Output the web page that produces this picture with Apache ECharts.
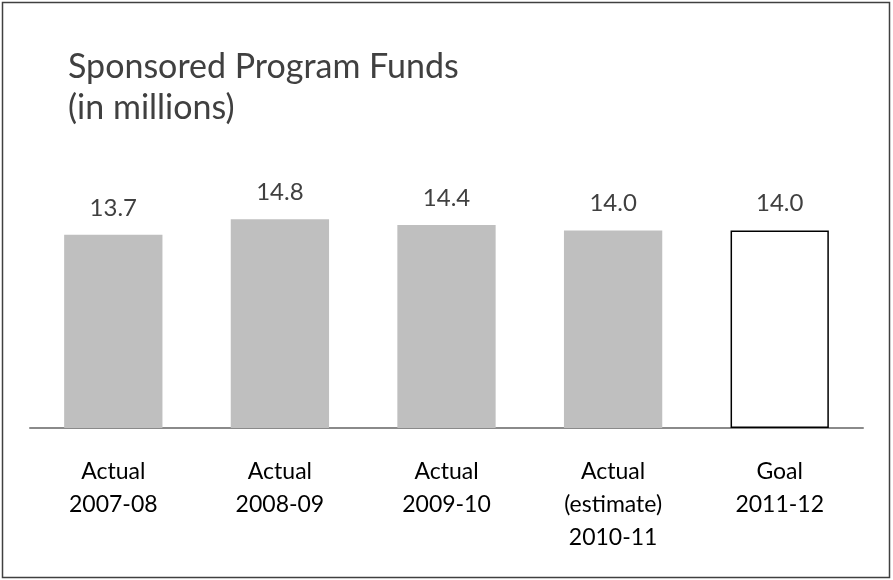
<!DOCTYPE html>
<html>
<head>
<meta charset="utf-8">
<script src="https://cdn.jsdelivr.net/npm/echarts@6/dist/echarts.min.js"></script>
<style>
  * { margin: 0; padding: 0; }
  html, body { width: 893px; height: 580px; background: #fff; overflow: hidden; }
  #chart { width: 893px; height: 580px; }
</style>
</head>
<body>
<div id="chart"></div>
<script>
// data
var categories = ['Actual\n2007-08', 'Actual\n2008-09', 'Actual\n2009-10', 'Actual\n(estimate)\n2010-11', 'Goal\n2011-12'];
var funds = [13.7, 14.8, 14.4, 14.0, 14.0];
var isGoal = [false, false, false, false, true];

var chart = echarts.init(document.getElementById('chart'));

var barData = funds.map(function (v, i) {
  if (isGoal[i]) {
    return { value: v, itemStyle: { color: '#ffffff', borderColor: '#000000', borderWidth: 1.5 } };
  }
  return { value: v };
});

var option = {
  animation: false,
  backgroundColor: '#ffffff',
  title: {
    text: 'Sponsored Program Funds\n(in millions)',
    left: 63,
    top: 42,
    textStyle: {
      fontFamily: 'Lato',
      fontWeight: 'normal',
      fontSize: 34,
      lineHeight: 41,
      color: '#404040'
    }
  },
  graphic: [{
    type: 'rect',
    shape: { x: 2.5, y: 2.5, width: 887, height: 575 },
    style: { fill: 'none', stroke: '#404040', lineWidth: 1.5 },
    silent: true
  }],
  grid: { left: 30, right: 30, top: 146, bottom: 152 },
  xAxis: {
    type: 'category',
    data: categories,
    axisLine: { lineStyle: { color: '#8a8a8a', width: 2 } },
    axisTick: { show: false },
    axisLabel: {
      margin: 27,
      fontFamily: 'Lato',
      fontSize: 23,
      lineHeight: 33,
      color: '#000000'
    }
  },
  yAxis: {
    type: 'value',
    min: 0,
    max: 20,
    show: false,
    splitLine: { show: false }
  },
  series: [{
    type: 'bar',
    data: barData,
    barWidth: '59%',
    itemStyle: { color: '#bfbfbf' },
    label: {
      show: true,
      position: 'top',
      distance: 15,
      formatter: function (p) { return p.value.toFixed(1); },
      fontFamily: 'Lato',
      fontSize: 24,
      color: '#404040'
    }
  }]
};

chart.setOption(option);
</script>
</body>
</html>
